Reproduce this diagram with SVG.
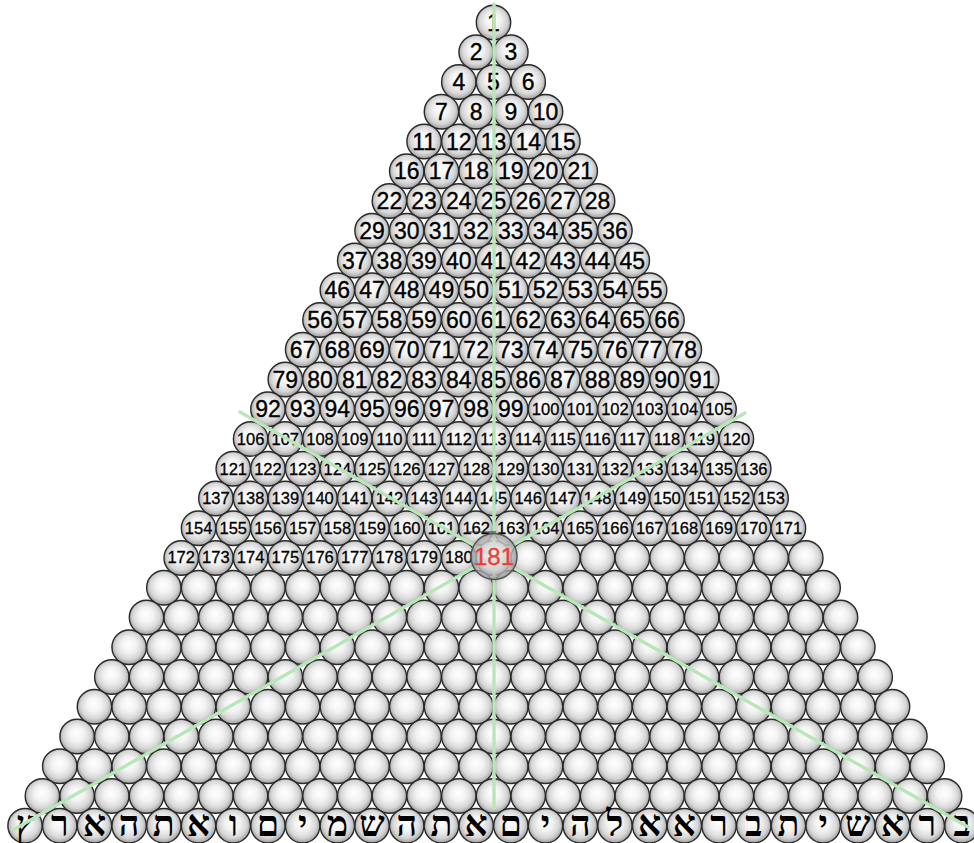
<svg xmlns="http://www.w3.org/2000/svg" xmlns:xlink="http://www.w3.org/1999/xlink" width="974" height="843" viewBox="0 0 974 843">
<style>
.n{font-family:"Liberation Sans",Arial,sans-serif;font-size:23px;text-anchor:middle;fill:#000;stroke:#000;stroke-width:0.35}
.s{font-size:16.5px;stroke-width:0.3}
.h{font-family:"Liberation Serif","DejaVu Sans",serif;font-size:36px;font-weight:bold;text-anchor:middle;fill:#000}
.ln{stroke:#b8e6b8;stroke-width:3.4;stroke-linecap:round;fill:none}
</style>
<defs>
<radialGradient id="g" cx="50%" cy="48%" r="55%" fx="48%" fy="40%">
<stop offset="0" stop-color="#ffffff"/>
<stop offset="0.4" stop-color="#f2f2f2"/>
<stop offset="0.72" stop-color="#d6d6d6"/>
<stop offset="0.9" stop-color="#ababab"/>
<stop offset="1" stop-color="#7a7a7a"/>
</radialGradient>
<radialGradient id="g2" cx="50%" cy="50%" r="55%" fx="50%" fy="42%">
<stop offset="0" stop-color="#f4f4f4"/>
<stop offset="0.6" stop-color="#cfcfcf"/>
<stop offset="1" stop-color="#8a8a8a"/>
</radialGradient>
<circle id="b" r="17.2" fill="url(#g)" stroke="#2a2a2a" stroke-width="1.4"/>
<g id="R1"><use href="#b"/></g>
<g id="R2"><use href="#R1"/><use href="#b" x="34.7"/></g>
<g id="R3"><use href="#R2"/><use href="#b" x="69.4"/></g>
<g id="R4"><use href="#R3"/><use href="#b" x="104.1"/></g>
<g id="R5"><use href="#R4"/><use href="#b" x="138.8"/></g>
<g id="R6"><use href="#R5"/><use href="#b" x="173.5"/></g>
<g id="R7"><use href="#R6"/><use href="#b" x="208.2"/></g>
<g id="R8"><use href="#R7"/><use href="#b" x="242.9"/></g>
<g id="R9"><use href="#R8"/><use href="#b" x="277.6"/></g>
<g id="R10"><use href="#R9"/><use href="#b" x="312.3"/></g>
<g id="R11"><use href="#R10"/><use href="#b" x="347"/></g>
<g id="R12"><use href="#R11"/><use href="#b" x="381.7"/></g>
<g id="R13"><use href="#R12"/><use href="#b" x="416.4"/></g>
<g id="R14"><use href="#R13"/><use href="#b" x="451.1"/></g>
<g id="R15"><use href="#R14"/><use href="#b" x="485.8"/></g>
<g id="R16"><use href="#R15"/><use href="#b" x="520.5"/></g>
<g id="R17"><use href="#R16"/><use href="#b" x="555.2"/></g>
<g id="R18"><use href="#R17"/><use href="#b" x="589.9"/></g>
<g id="R19"><use href="#R18"/><use href="#b" x="624.6"/></g>
<g id="R20"><use href="#R19"/><use href="#b" x="659.3"/></g>
<g id="R21"><use href="#R20"/><use href="#b" x="694"/></g>
<g id="R22"><use href="#R21"/><use href="#b" x="728.7"/></g>
<g id="R23"><use href="#R22"/><use href="#b" x="763.4"/></g>
<g id="R24"><use href="#R23"/><use href="#b" x="798.1"/></g>
<g id="R25"><use href="#R24"/><use href="#b" x="832.8"/></g>
<g id="R26"><use href="#R25"/><use href="#b" x="867.5"/></g>
<g id="R27"><use href="#R26"/><use href="#b" x="902.2"/></g>
<g id="R28"><use href="#R27"/><use href="#b" x="936.9"/></g>
</defs>
<rect width="974" height="843" fill="#fff"/>
<g id="row1" transform="translate(493.5,22.5)"><use href="#R1"/><text class="n" y="8.2"><tspan x="0">1</tspan></text></g>
<g id="row2" transform="translate(476.15,52.25)"><use href="#R2"/><text class="n" y="8.2"><tspan x="0">2</tspan><tspan x="34.7">3</tspan></text></g>
<g id="row3" transform="translate(458.8,82)"><use href="#R3"/><text class="n" y="8.2"><tspan x="0">4</tspan><tspan x="34.7">5</tspan><tspan x="69.4">6</tspan></text></g>
<g id="row4" transform="translate(441.45,111.75)"><use href="#R4"/><text class="n" y="8.2"><tspan x="0">7</tspan><tspan x="34.7">8</tspan><tspan x="69.4">9</tspan><tspan x="104.1">10</tspan></text></g>
<g id="row5" transform="translate(424.1,141.5)"><use href="#R5"/><text class="n" y="8.2"><tspan x="0">11</tspan><tspan x="34.7">12</tspan><tspan x="69.4">13</tspan><tspan x="104.1">14</tspan><tspan x="138.8">15</tspan></text></g>
<g id="row6" transform="translate(406.75,171.25)"><use href="#R6"/><text class="n" y="8.2"><tspan x="0">16</tspan><tspan x="34.7">17</tspan><tspan x="69.4">18</tspan><tspan x="104.1">19</tspan><tspan x="138.8">20</tspan><tspan x="173.5">21</tspan></text></g>
<g id="row7" transform="translate(389.4,201)"><use href="#R7"/><text class="n" y="8.2"><tspan x="0">22</tspan><tspan x="34.7">23</tspan><tspan x="69.4">24</tspan><tspan x="104.1">25</tspan><tspan x="138.8">26</tspan><tspan x="173.5">27</tspan><tspan x="208.2">28</tspan></text></g>
<g id="row8" transform="translate(372.05,230.75)"><use href="#R8"/><text class="n" y="8.2"><tspan x="0">29</tspan><tspan x="34.7">30</tspan><tspan x="69.4">31</tspan><tspan x="104.1">32</tspan><tspan x="138.8">33</tspan><tspan x="173.5">34</tspan><tspan x="208.2">35</tspan><tspan x="242.9">36</tspan></text></g>
<g id="row9" transform="translate(354.7,260.5)"><use href="#R9"/><text class="n" y="8.2"><tspan x="0">37</tspan><tspan x="34.7">38</tspan><tspan x="69.4">39</tspan><tspan x="104.1">40</tspan><tspan x="138.8">41</tspan><tspan x="173.5">42</tspan><tspan x="208.2">43</tspan><tspan x="242.9">44</tspan><tspan x="277.6">45</tspan></text></g>
<g id="row10" transform="translate(337.35,290.25)"><use href="#R10"/><text class="n" y="8.2"><tspan x="0">46</tspan><tspan x="34.7">47</tspan><tspan x="69.4">48</tspan><tspan x="104.1">49</tspan><tspan x="138.8">50</tspan><tspan x="173.5">51</tspan><tspan x="208.2">52</tspan><tspan x="242.9">53</tspan><tspan x="277.6">54</tspan><tspan x="312.3">55</tspan></text></g>
<g id="row11" transform="translate(320,320)"><use href="#R11"/><text class="n" y="8.2"><tspan x="0">56</tspan><tspan x="34.7">57</tspan><tspan x="69.4">58</tspan><tspan x="104.1">59</tspan><tspan x="138.8">60</tspan><tspan x="173.5">61</tspan><tspan x="208.2">62</tspan><tspan x="242.9">63</tspan><tspan x="277.6">64</tspan><tspan x="312.3">65</tspan><tspan x="347">66</tspan></text></g>
<g id="row12" transform="translate(302.65,349.75)"><use href="#R12"/><text class="n" y="8.2"><tspan x="0">67</tspan><tspan x="34.7">68</tspan><tspan x="69.4">69</tspan><tspan x="104.1">70</tspan><tspan x="138.8">71</tspan><tspan x="173.5">72</tspan><tspan x="208.2">73</tspan><tspan x="242.9">74</tspan><tspan x="277.6">75</tspan><tspan x="312.3">76</tspan><tspan x="347">77</tspan><tspan x="381.7">78</tspan></text></g>
<g id="row13" transform="translate(285.3,379.5)"><use href="#R13"/><text class="n" y="8.2"><tspan x="0">79</tspan><tspan x="34.7">80</tspan><tspan x="69.4">81</tspan><tspan x="104.1">82</tspan><tspan x="138.8">83</tspan><tspan x="173.5">84</tspan><tspan x="208.2">85</tspan><tspan x="242.9">86</tspan><tspan x="277.6">87</tspan><tspan x="312.3">88</tspan><tspan x="347">89</tspan><tspan x="381.7">90</tspan><tspan x="416.4">91</tspan></text></g>
<g id="row14" transform="translate(267.95,409.25)"><use href="#R14"/><text class="n" y="8.2"><tspan x="0">92</tspan><tspan x="34.7">93</tspan><tspan x="69.4">94</tspan><tspan x="104.1">95</tspan><tspan x="138.8">96</tspan><tspan x="173.5">97</tspan><tspan x="208.2">98</tspan><tspan x="242.9">99</tspan></text><text class="n s" y="5.9"><tspan x="277.6">100</tspan><tspan x="312.3">101</tspan><tspan x="347">102</tspan><tspan x="381.7">103</tspan><tspan x="416.4">104</tspan><tspan x="451.1">105</tspan></text></g>
<g id="row15" transform="translate(250.6,439)"><use href="#R15"/><text class="n s" y="5.9"><tspan x="0">106</tspan><tspan x="34.7">107</tspan><tspan x="69.4">108</tspan><tspan x="104.1">109</tspan><tspan x="138.8">110</tspan><tspan x="173.5">111</tspan><tspan x="208.2">112</tspan><tspan x="242.9">113</tspan><tspan x="277.6">114</tspan><tspan x="312.3">115</tspan><tspan x="347">116</tspan><tspan x="381.7">117</tspan><tspan x="416.4">118</tspan><tspan x="451.1">119</tspan><tspan x="485.8">120</tspan></text></g>
<g id="row16" transform="translate(233.25,468.75)"><use href="#R16"/><text class="n s" y="5.9"><tspan x="0">121</tspan><tspan x="34.7">122</tspan><tspan x="69.4">123</tspan><tspan x="104.1">124</tspan><tspan x="138.8">125</tspan><tspan x="173.5">126</tspan><tspan x="208.2">127</tspan><tspan x="242.9">128</tspan><tspan x="277.6">129</tspan><tspan x="312.3">130</tspan><tspan x="347">131</tspan><tspan x="381.7">132</tspan><tspan x="416.4">133</tspan><tspan x="451.1">134</tspan><tspan x="485.8">135</tspan><tspan x="520.5">136</tspan></text></g>
<g id="row17" transform="translate(215.9,498.5)"><use href="#R17"/><text class="n s" y="5.9"><tspan x="0">137</tspan><tspan x="34.7">138</tspan><tspan x="69.4">139</tspan><tspan x="104.1">140</tspan><tspan x="138.8">141</tspan><tspan x="173.5">142</tspan><tspan x="208.2">143</tspan><tspan x="242.9">144</tspan><tspan x="277.6">145</tspan><tspan x="312.3">146</tspan><tspan x="347">147</tspan><tspan x="381.7">148</tspan><tspan x="416.4">149</tspan><tspan x="451.1">150</tspan><tspan x="485.8">151</tspan><tspan x="520.5">152</tspan><tspan x="555.2">153</tspan></text></g>
<g id="row18" transform="translate(198.55,528.25)"><use href="#R18"/><text class="n s" y="5.9"><tspan x="0">154</tspan><tspan x="34.7">155</tspan><tspan x="69.4">156</tspan><tspan x="104.1">157</tspan><tspan x="138.8">158</tspan><tspan x="173.5">159</tspan><tspan x="208.2">160</tspan><tspan x="242.9">161</tspan><tspan x="277.6">162</tspan><tspan x="312.3">163</tspan><tspan x="347">164</tspan><tspan x="381.7">165</tspan><tspan x="416.4">166</tspan><tspan x="451.1">167</tspan><tspan x="485.8">168</tspan><tspan x="520.5">169</tspan><tspan x="555.2">170</tspan><tspan x="589.9">171</tspan></text></g>
<g id="row19" transform="translate(181.2,558)"><use href="#R19"/><text class="n s" y="4.9"><tspan x="0">172</tspan><tspan x="34.7">173</tspan><tspan x="69.4">174</tspan><tspan x="104.1">175</tspan><tspan x="138.8">176</tspan><tspan x="173.5">177</tspan><tspan x="208.2">178</tspan><tspan x="242.9">179</tspan><tspan x="277.6">180</tspan></text></g>
<g id="row20" transform="translate(163.85,587.75)"><use href="#R20"/></g>
<g id="row21" transform="translate(146.5,617.5)"><use href="#R21"/></g>
<g id="row22" transform="translate(129.15,647.25)"><use href="#R22"/></g>
<g id="row23" transform="translate(111.8,677)"><use href="#R23"/></g>
<g id="row24" transform="translate(94.45,706.75)"><use href="#R24"/></g>
<g id="row25" transform="translate(77.1,736.5)"><use href="#R25"/></g>
<g id="row26" transform="translate(59.75,766.25)"><use href="#R26"/></g>
<g id="row27" transform="translate(42.4,796)"><use href="#R27"/></g>
<g id="row28" transform="translate(25.05,825.75)"><use href="#R28"/><text class="h" y="10.5"><tspan x="0">ץ</tspan><tspan x="34.7">ר</tspan><tspan x="69.4">א</tspan><tspan x="104.1">ה</tspan><tspan x="138.8">ת</tspan><tspan x="173.5">א</tspan><tspan x="208.2">ו</tspan><tspan x="242.9">ם</tspan><tspan x="277.6">י</tspan><tspan x="312.3">מ</tspan><tspan x="347">ש</tspan><tspan x="381.7">ה</tspan><tspan x="416.4">ת</tspan><tspan x="451.1">א</tspan><tspan x="485.8">ם</tspan><tspan x="520.5">י</tspan><tspan x="555.2">ה</tspan><tspan x="589.9">ל</tspan><tspan x="624.6">א</tspan><tspan x="659.3">א</tspan><tspan x="694">ר</tspan><tspan x="728.7">ב</tspan><tspan x="763.4">ת</tspan><tspan x="798.1">י</tspan><tspan x="832.8">ש</tspan><tspan x="867.5">א</tspan><tspan x="902.2">ר</tspan><tspan x="936.9">ב</tspan></text></g>
<g id="connectors">
<line class="ln" x1="494" y1="4" x2="494" y2="808"/>
<line class="ln" x1="240" y1="412" x2="968" y2="827"/>
<line class="ln" x1="745" y1="413" x2="13" y2="830"/>
<line x1="467" y1="532" x2="496" y2="532" stroke="#333" stroke-width="1"/>
</g>
<g id="node181">
<circle cx="494" cy="556.5" r="23" fill="url(#g2)" fill-opacity="0.8" stroke="#555" stroke-width="1.5"/>
<text x="494" y="565" style="font-family:'Liberation Sans',Arial,sans-serif;font-size:24px;text-anchor:middle;fill:#ee3a3a;stroke:#ee3a3a;stroke-width:0.3">181</text>
</g>
</svg>
